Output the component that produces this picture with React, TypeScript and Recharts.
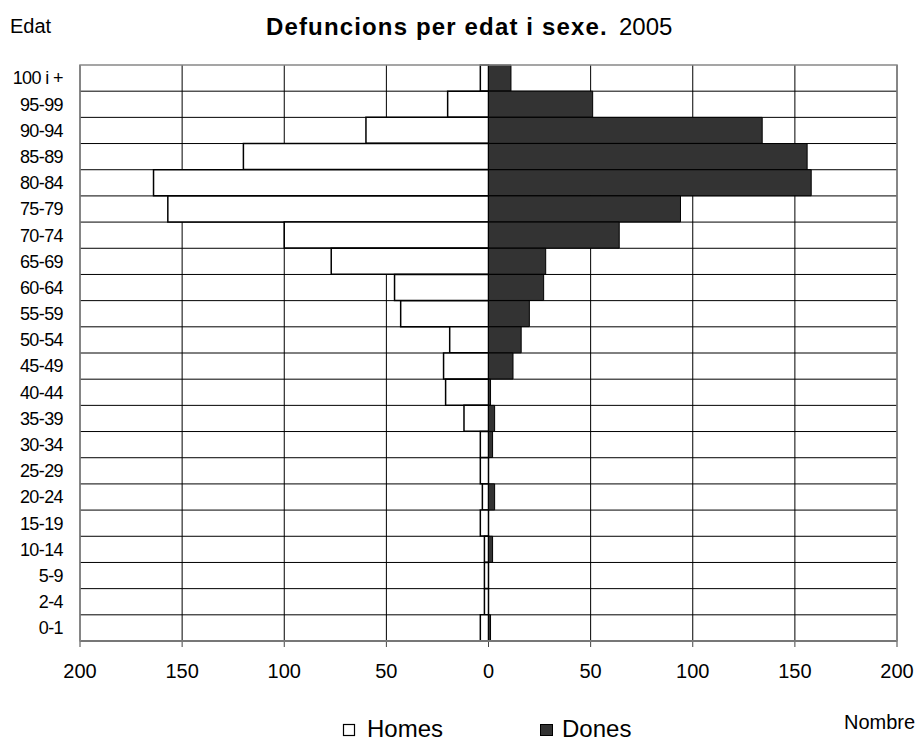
import { BarChart, Bar, XAxis, YAxis, CartesianGrid } from "recharts";

const ages = [
  "100 i +", "95-99", "90-94", "85-89", "80-84", "75-79", "70-74", "65-69",
  "60-64", "55-59", "50-54", "45-49", "40-44", "35-39", "30-34", "25-29",
  "20-24", "15-19", "10-14", "5-9", "2-4", "0-1",
];
const homes = [4, 20, 60, 120, 164, 157, 100, 77, 46, 43, 19, 22, 21, 12, 4, 4, 3, 4, 2, 2, 2, 4];
const dones = [11, 51, 134, 156, 158, 94, 64, 28, 27, 20, 16, 12, 1, 3, 2, 0, 3, 0, 2, 0, 0, 1];
const xTicks = [-200, -150, -100, -50, 0, 50, 100, 150, 200];

const data = ages.map((age, i) => ({ age, homes: -homes[i], dones: dones[i] }));

const W = 919;
const H = 742;
const margin = { top: 65, right: 22, bottom: 61, left: 0 };
const yAxisWidth = 80;
const xAxisHeight = 40;
const font = "'Liberation Sans', Arial, sans-serif";

// lines between the age bands, not through their middles
const bandLines = ({ offset }: any) => {
  const step = offset.height / ages.length;
  const out: number[] = [];
  for (let i = 1; i < ages.length; i++) out.push(offset.top + i * step);
  return out;
};

const App = () => {
  const plotLeft = margin.left + yAxisWidth;
  const plotTop = margin.top;
  const plotW = W - plotLeft - margin.right;
  const plotH = H - margin.top - margin.bottom - xAxisHeight;

  return (
    <div style={{ position: "absolute", left: 0, top: 0, width: W, height: H, background: "#fff", fontFamily: font }}>
      <BarChart
        width={W}
        height={H}
        data={data}
        layout="vertical"
        margin={margin}
        barCategoryGap={0}
        stackOffset="sign"
      >
        <CartesianGrid stroke="#000" strokeWidth={1} horizontalCoordinatesGenerator={bandLines} />
        <XAxis
          type="number"
          domain={[-200, 200]}
          ticks={xTicks}
          tickFormatter={(v: number) => String(Math.abs(v))}
          height={xAxisHeight}
          axisLine={{ stroke: "#444", strokeWidth: 2 }}
          tickLine={{ stroke: "#444" }}
          tickSize={6}
          tickMargin={17}
          tick={{ fontSize: 20, fill: "#000", fontFamily: font }}
          allowDataOverflow
        />
        <YAxis
          type="category"
          dataKey="age"
          width={yAxisWidth}
          axisLine={false}
          tickLine={false}
          tickSize={0}
          tickMargin={17}
          interval={0}
          tick={{ fontSize: 18, fill: "#000", fontFamily: font, letterSpacing: -0.6 }}
        />
        <Bar dataKey="homes" stackId="s" fill="#fff" stroke="#000" strokeWidth={1.5} isAnimationActive={false} />
        <Bar dataKey="dones" stackId="s" fill="#333" stroke="#000" strokeWidth={1} isAnimationActive={false} />
      </BarChart>
      <svg width={W} height={H} style={{ position: "absolute", left: 0, top: 0, pointerEvents: "none" }}>
        <rect x={plotLeft} y={plotTop} width={plotW} height={plotH} fill="none" stroke="#888" strokeWidth={1.5} />
        <text x={10} y={33} fontSize={20} fontFamily={font} fill="#000">Edat</text>
        <text y={35} fontSize={24} fontFamily={font} fill="#000">
          <tspan x={266} fontWeight="bold" letterSpacing={1.15}>Defuncions per edat i sexe.</tspan>
          <tspan x={619}>2005</tspan>
        </text>
        <text x={844} y={729} fontSize={20} fontFamily={font} fill="#000">Nombre</text>
        <rect x={343.5} y={724.5} width={11} height={11} fill="#fff" stroke="#000" strokeWidth={1.2} />
        <text x={367} y={737} fontSize={24} fontFamily={font} fill="#000">Homes</text>
        <rect x={540.5} y={724.5} width={12} height={11} fill="#333" stroke="#000" strokeWidth={1} />
        <text x={562} y={737} fontSize={24} fontFamily={font} fill="#000">Dones</text>
      </svg>
    </div>
  );
};

export default App;
